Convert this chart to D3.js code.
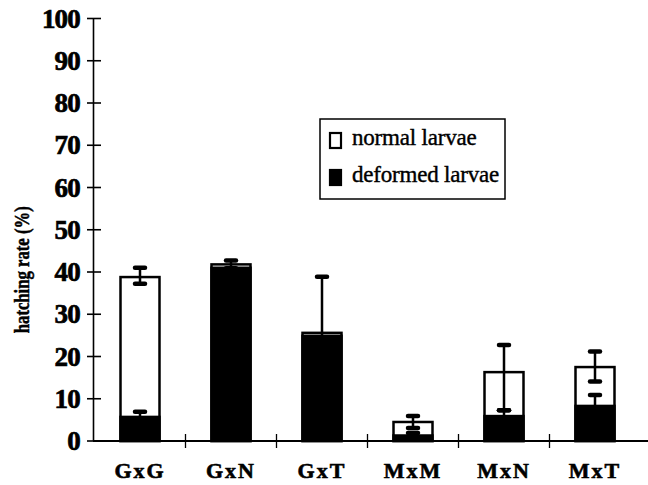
<!DOCTYPE html>
<html>
<head>
<meta charset="utf-8">
<script src="https://cdn.jsdelivr.net/npm/d3@7"></script>
<style>
  html, body { margin: 0; padding: 0; background: #fff; }
  svg { display: block; }
  text { font-family: "Liberation Serif", "Times New Roman", serif; fill: #000; }
</style>
</head>
<body>
<svg id="chart" width="648" height="485"></svg>
<script>
// ---- data ----
const categories = ["GxG", "GxN", "GxT", "MxM", "MxN", "MxT"];
const totalRate = [38.8, 41.8, 25.6, 4.5, 16.3, 17.5];     // hatching rate (normal + deformed)
const totalErrHigh = [2.2, 0.9, 13.3, 1.4, 6.4, 3.7];
const totalErrLow = [1.6, 0.9, 13.3, 1.4, 9.0, 3.4];
const deformedRate = [5.7, 41.0, 24.9, 1.3, 5.9, 8.3];
const deformedErr = [1.2, 0.0, 0.0, 0.6, 1.4, 2.6];
const yTicks = [0, 10, 20, 30, 40, 50, 60, 70, 80, 90, 100];
const legendLabels = ["normal larvae", "deformed larvae"];
const yLabel = "hatching rate (%)";

// ---- layout ----
const svg = d3.select("#chart");
const x = d3.scaleBand().domain(categories).range([94.5, 640.5]).padding(0);
const y = d3.scaleLinear().domain([0, 100]).range([441, 18.5]);
const barW = 39;
const cx = c => x(c) + x.bandwidth() / 2;

const rows = categories.map((c, i) => ({
  c, total: totalRate[i], tHi: totalErrHigh[i], tLo: totalErrLow[i],
  def: deformedRate[i], dHi: deformedErr[i], dLo: deformedErr[i]
}));

// bars: full outline (normal part white), deformed part dark
const g = svg.append("g");
g.selectAll("rect.total").data(rows).join("rect")
  .attr("class", "total")
  .attr("x", d => cx(d.c) - barW / 2)
  .attr("y", d => y(d.total))
  .attr("width", barW)
  .attr("height", d => y(0) - y(d.total))
  .attr("fill", "#fff")
  .attr("stroke", "#000")
  .attr("stroke-width", 2.5);

g.selectAll("rect.def").data(rows).join("rect")
  .attr("class", "def")
  .attr("x", d => cx(d.c) - barW / 2)
  .attr("y", d => y(d.def))
  .attr("width", barW)
  .attr("height", d => y(0) - y(d.def))
  .attr("fill", "#000")
  .attr("stroke", "#000")
  .attr("stroke-width", 2.5);

// error bars
function errBars(valKey, hiKey, loKey) {
  const data = rows.filter(d => d[hiKey] > 0);
  const eg = g.append("g").attr("stroke", "#000").attr("stroke-linecap", "round");
  eg.selectAll("line.v").data(data).join("line")
    .attr("x1", d => cx(d.c)).attr("x2", d => cx(d.c))
    .attr("y1", d => y(d[valKey] - d[loKey])).attr("y2", d => y(d[valKey] + d[hiKey]))
    .attr("stroke-width", 2.5);
  eg.selectAll("line.capu").data(data).join("line")
    .attr("x1", d => cx(d.c) - 5).attr("x2", d => cx(d.c) + 5)
    .attr("y1", d => y(d[valKey] + d[hiKey])).attr("y2", d => y(d[valKey] + d[hiKey]))
    .attr("stroke-width", 4.5);
  eg.selectAll("line.capd").data(data).join("line")
    .attr("x1", d => cx(d.c) - 5).attr("x2", d => cx(d.c) + 5)
    .attr("y1", d => y(d[valKey] - d[loKey])).attr("y2", d => y(d[valKey] - d[loKey]))
    .attr("stroke-width", 4.5);
}
errBars("def", "dHi", "dLo");
errBars("total", "tHi", "tLo");

// y axis
const ya = svg.append("g");
ya.append("line")
  .attr("x1", 93.5).attr("x2", 93.5)
  .attr("y1", y(0)).attr("y2", y(100))
  .attr("stroke", "#000").attr("stroke-width", 1.6);
ya.selectAll("line.t").data(yTicks).join("line")
  .attr("x1", 87).attr("x2", 101)
  .attr("y1", d => y(d)).attr("y2", d => y(d))
  .attr("stroke", "#000").attr("stroke-width", 1.6);
ya.selectAll("text").data(yTicks).join("text")
  .attr("x", 80).attr("y", d => y(d)).attr("dy", "0.34em")
  .attr("text-anchor", "end")
  .attr("font-size", 27).attr("font-weight", "bold")
  .attr("letter-spacing", -0.8)
  .attr("stroke", "#000").attr("stroke-width", 0.7)
  .text(d => d);

// y label
svg.append("text")
  .attr("transform", `translate(29, ${(y(0) + y(100)) / 2 + 40}) rotate(-90)`)
  .attr("text-anchor", "middle")
  .attr("font-size", 20).attr("font-weight", "bold")
  .attr("textLength", 127).attr("lengthAdjust", "spacingAndGlyphs")
  .attr("stroke", "#000").attr("stroke-width", 0.5)
  .text(yLabel);

// x axis
const xa = svg.append("g");
xa.append("line")
  .attr("x1", 93).attr("x2", 648)
  .attr("y1", y(0)).attr("y2", y(0))
  .attr("stroke", "#000").attr("stroke-width", 1.8);
xa.selectAll("line.t").data(categories.slice(1)).join("line")
  .attr("x1", d => x(d)).attr("x2", d => x(d))
  .attr("y1", y(0) - 7).attr("y2", y(0) + 7)
  .attr("stroke", "#000").attr("stroke-width", 1.3);
xa.selectAll("text").data(categories).join("text")
  .attr("x", d => cx(d)).attr("y", 478)
  .attr("text-anchor", "middle")
  .attr("font-size", 22).attr("font-weight", "bold")
  .attr("letter-spacing", 2)
  .attr("stroke", "#000").attr("stroke-width", 0.6)
  .text(d => d);

// legend
const lg = svg.append("g");
lg.append("rect")
  .attr("x", 320).attr("y", 119).attr("width", 185).attr("height", 80)
  .attr("fill", "#fff").attr("stroke", "#000").attr("stroke-width", 1.5);
const legY = d3.scalePoint().domain(legendLabels).range([145, 182]);
lg.selectAll("rect.sw").data(legendLabels).join("rect")
  .attr("class", "sw")
  .attr("x", 330).attr("y", d => legY(d) - 12)
  .attr("width", 11).attr("height", 15)
  .attr("fill", (d, i) => i === 0 ? "#fff" : "#000")
  .attr("stroke", "#000").attr("stroke-width", 2.2);
lg.selectAll("text").data(legendLabels).join("text")
  .attr("x", 352).attr("y", d => legY(d))
  .attr("font-size", 23)
  .attr("letter-spacing", -0.2)
  .attr("stroke", "#000").attr("stroke-width", 0.4)
  .text(d => d);
</script>
</body>
</html>
